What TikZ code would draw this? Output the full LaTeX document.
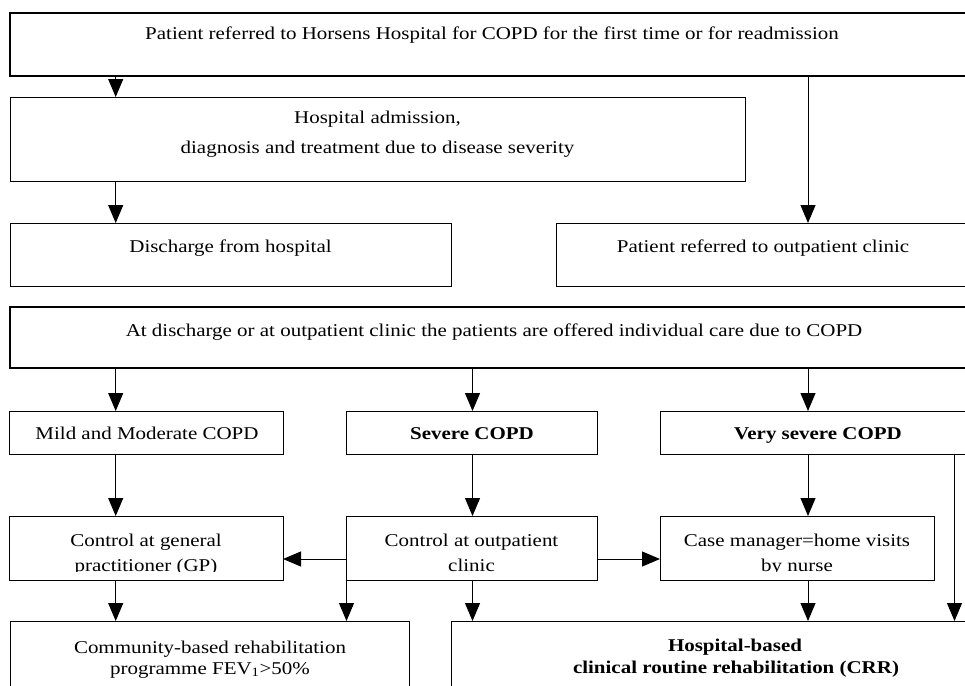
\documentclass[tikz,border=0pt]{standalone}
\usepackage{fontspec}
\setmainfont{Liberation Serif}[FakeStretch=1.165]
\usetikzlibrary{arrows.meta}
\begin{document}
\begin{tikzpicture}[x=1pt,y=-1pt,
  box/.style={draw, rectangle, line width=1pt, inner sep=0pt, outer sep=0pt, anchor=north west},
  thickbox/.style={box, line width=1.6pt},
  txt/.style={anchor=base, inner sep=0pt, font=\fontsize{18}{22}\selectfont},
  btxt/.style={anchor=base, inner sep=0pt, font=\fontsize{18}{22}\selectfont\bfseries},
  arr/.style={-{Triangle[length=18pt,width=15pt]}, line width=1pt}]
\useasboundingbox (0,0) rectangle (965,685);
\clip (0,0) rectangle (965,685);
% boxes
\node[thickbox, minimum width=965pt, minimum height=63pt] (top) at (10,13) {};
\node[box, minimum width=735pt, minimum height=84pt] (adm) at (10,97) {};
\node[box, minimum width=441pt, minimum height=63pt] (dis) at (10,223) {};
\node[box, minimum width=414pt, minimum height=63pt] (opc) at (556,223) {};
\node[thickbox, minimum width=968pt, minimum height=61pt] (care) at (10,307) {};
\node[box, minimum width=273.5pt, minimum height=43pt] (mild) at (9.5,411) {};
\node[box, minimum width=250.5pt, minimum height=43pt] (sev) at (346.5,411) {};
\node[box, minimum width=316pt, minimum height=43pt] (vsev) at (660,411) {};
\node[box, minimum width=273.5pt, minimum height=64pt] (gp) at (9.5,516) {};
\node[box, minimum width=250.5pt, minimum height=64pt] (ctl) at (346.5,516) {};
\node[box, minimum width=274pt, minimum height=64pt] (cm) at (660,516) {};
\node[box, minimum width=399pt, minimum height=90pt] (com) at (10,621) {};
\node[box, minimum width=569pt, minimum height=90pt] (hos) at (451,621) {};
% texts
\node[txt] (t1) at (492,40) {Patient referred to Horsens Hospital for COPD for the first time or for readmission};
\node[txt] (t2a) at (377.5,123) {Hospital admission,};
\node[txt] (t2b) at (377.5,153) {diagnosis and treatment due to disease severity};
\node[txt] (t3) at (230.5,252) {Discharge from hospital};
\node[txt] (t4) at (763,252) {Patient referred to outpatient clinic};
\node[txt] (t5) at (494,336) {At discharge or at outpatient clinic the patients are offered individual care due to COPD};
\node[txt] (t6) at (147,439) {Mild and Moderate COPD};
\node[btxt] (t7) at (472,439) {Severe COPD};
\node[btxt] (t8) at (818,439) {Very severe COPD};
\begin{scope}
\clip (0,500) rectangle (965,571);
\node[txt] (t9a) at (146,546) {Control at general};
\node[txt] (t9b) at (146,571) {practitioner (GP)};
\node[txt] (t10a) at (471.5,546) {Control at outpatient};
\node[txt] (t10b) at (471.5,571) {clinic};
\node[txt] (t11a) at (797,546) {Case manager=home visits};
\node[txt] (t11b) at (797,571) {by nurse};
\end{scope}
\node[txt] (t12a) at (210,653) {Community-based rehabilitation};
\node[txt] (t12b) at (210,674) {programme FEV\textsubscript{1}>50\%};
\node[btxt] (t13a) at (735,651) {Hospital-based};
\node[btxt] (t13b) at (736,673) {clinical routine rehabilitation (CRR)};
% connector columns
\coordinate (c1) at (115.7,0);
\coordinate (c2) at (472.5,0);
\coordinate (c3) at (808,0);
\coordinate (c4) at (954.5,0);
\coordinate (h) at (0,559);
% connectors
\draw[arr] (top.south -| c1) -- (adm.north -| c1);
\draw[arr] (adm.south -| c1) -- (dis.north -| c1);
\draw[arr] (top.south -| c3) -- (opc.north -| c3);
\draw[arr] (care.south -| c1) -- (mild.north -| c1);
\draw[arr] (care.south -| c2) -- (sev.north -| c2);
\draw[arr] (care.south -| c3) -- (vsev.north -| c3);
\draw[arr] (mild.south -| c1) -- (gp.north -| c1);
\draw[arr] (sev.south -| c2) -- (ctl.north -| c2);
\draw[arr] (vsev.south -| c3) -- (cm.north -| c3);
\draw[arr] (ctl.west |- h) -- (gp.east |- h);
\draw[arr] (ctl.east |- h) -- (cm.west |- h);
\draw[arr] (gp.south -| c1) -- (com.north -| c1);
\draw[arr] (ctl.south west) -- (com.north -| ctl.south west);
\draw[arr] (ctl.south -| c2) -- (hos.north -| c2);
\draw[arr] (cm.south -| c3) -- (hos.north -| c3);
\draw[arr] (vsev.south -| c4) -- (hos.north -| c4);
\end{tikzpicture}
\end{document}
